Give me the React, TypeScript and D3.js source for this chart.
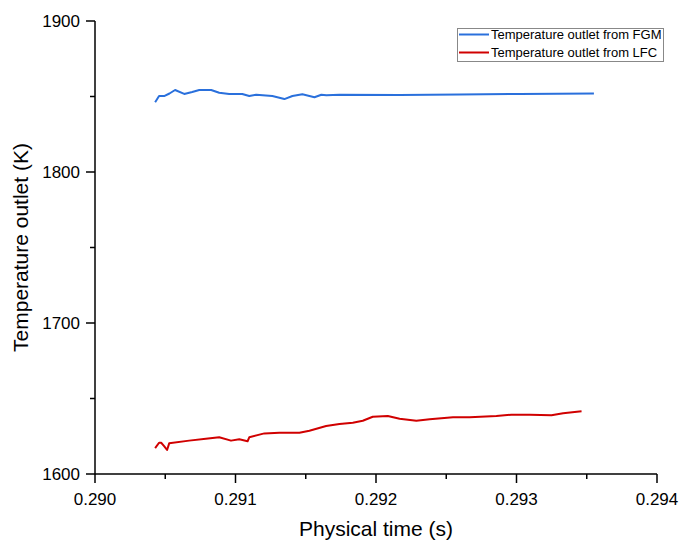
import React from "react";
import * as d3 from "d3";

const fgmTime = [0.290428, 0.290456, 0.290492, 0.29053, 0.29057, 0.290635, 0.290692, 0.290742, 0.290827, 0.290884, 0.290955, 0.291048, 0.291098, 0.291148, 0.291262, 0.291348, 0.291405, 0.291476, 0.291562, 0.291611, 0.291647, 0.29174, 0.292168, 0.292595, 0.293023, 0.293551];
const fgmTemp = [1846.2, 1850.3, 1850.3, 1852.0, 1854.3, 1851.7, 1853.0, 1854.3, 1854.3, 1852.5, 1851.7, 1851.7, 1850.3, 1851.2, 1850.3, 1848.3, 1850.3, 1851.5, 1849.5, 1851.2, 1850.8, 1851.2, 1851.0, 1851.3, 1851.7, 1852.0];

const lfcTime = [0.290428, 0.290456, 0.290471, 0.290492, 0.290513, 0.290528, 0.29067, 0.290789, 0.290884, 0.290968, 0.291027, 0.291086, 0.291098, 0.291205, 0.291312, 0.291455, 0.291526, 0.291645, 0.29174, 0.291835, 0.291906, 0.291977, 0.292084, 0.292168, 0.292287, 0.292382, 0.292548, 0.292667, 0.292857, 0.292964, 0.293094, 0.293249, 0.293332, 0.293463];
const lfcTemp = [1617.2, 1620.7, 1620.7, 1618.5, 1615.9, 1620.3, 1622.1, 1623.4, 1624.3, 1622.1, 1623.0, 1621.7, 1624.3, 1626.9, 1627.3, 1627.3, 1628.7, 1631.8, 1633.1, 1634.0, 1635.3, 1637.9, 1638.4, 1636.6, 1635.3, 1636.2, 1637.6, 1637.6, 1638.4, 1639.3, 1639.3, 1638.9, 1640.2, 1641.5];

const xTicks = [0.29, 0.291, 0.292, 0.293, 0.294];
const xMinor = [0.2905, 0.2915, 0.2925, 0.2935];
const yTicks = [1600, 1700, 1800, 1900];
const yMinor = [1650, 1750, 1850];
const seriesNames = ["Temperature outlet from FGM", "Temperature outlet from LFC"];
const seriesColors = ["#2a70dc", "#d00000"];

const FONT = "'Liberation Sans', Arial, sans-serif";

export default function App() {
  const left = 95, right = 657, top = 21, bottom = 474;
  const x = d3.scaleLinear().domain([0.29, 0.294]).range([left, right]);
  const y = d3.scaleLinear().domain([1600, 1900]).range([bottom, top]);
  const line = d3.line<[number, number]>().x(d => x(d[0])).y(d => y(d[1]));
  const fgm = fgmTime.map((t, i) => [t, fgmTemp[i]] as [number, number]);
  const lfc = lfcTime.map((t, i) => [t, lfcTemp[i]] as [number, number]);
  const series = [fgm, lfc];
  const major = 9, minor = 5;
  return (
    <svg width={684} height={542} style={{ position: "absolute", left: 0, top: 0, background: "#fff" }} fontFamily={FONT}>
      <rect width={684} height={542} fill="#fff" />
      {series.map((s, i) => (
        <path key={i} d={line(s) || ""} fill="none" stroke={seriesColors[i]} strokeWidth={2} strokeLinejoin="round" />
      ))}
      {/* axes */}
      <line x1={left} x2={left} y1={top} y2={bottom + 0.5} stroke="#000" strokeWidth={1.5} />
      <line x1={left} x2={right} y1={bottom} y2={bottom} stroke="#000" strokeWidth={1.5} />
      {yTicks.map(v => (
        <g key={v}>
          <line x1={left - major} x2={left} y1={y(v)} y2={y(v)} stroke="#000" strokeWidth={1.5} />
          <text x={left - 15} y={y(v)} dy="0.36em" textAnchor="end" fontSize={17}>{v}</text>
        </g>
      ))}
      {yMinor.map(v => (
        <line key={v} x1={left - minor} x2={left} y1={y(v)} y2={y(v)} stroke="#000" strokeWidth={1.5} />
      ))}
      {xTicks.map(v => (
        <g key={v}>
          <line x1={x(v)} x2={x(v)} y1={bottom} y2={bottom + major} stroke="#000" strokeWidth={1.5} />
          <text x={x(v)} y={505} textAnchor="middle" fontSize={17}>{d3.format(".3f")(v)}</text>
        </g>
      ))}
      {xMinor.map(v => (
        <line key={v} x1={x(v)} x2={x(v)} y1={bottom} y2={bottom + minor} stroke="#000" strokeWidth={1.5} />
      ))}
      <text x={(left + right) / 2} y={536} textAnchor="middle" fontSize={21}>Physical time (s)</text>
      <text transform={`translate(28,${(top + bottom) / 2}) rotate(-90)`} textAnchor="middle" fontSize={21}>Temperature outlet (K)</text>
      {/* legend */}
      <rect x={457.5} y={28.5} width={206} height={33} fill="#fff" stroke="#888" strokeWidth={1} />
      {seriesNames.map((n, i) => (
        <g key={n}>
          <line x1={459} x2={489} y1={34.5 + i * 18} y2={34.5 + i * 18} stroke={seriesColors[i]} strokeWidth={2} />
          <text x={491} y={34.5 + i * 18} dy="0.36em" fontSize={13}>{n}</text>
        </g>
      ))}
    </svg>
  );
}
